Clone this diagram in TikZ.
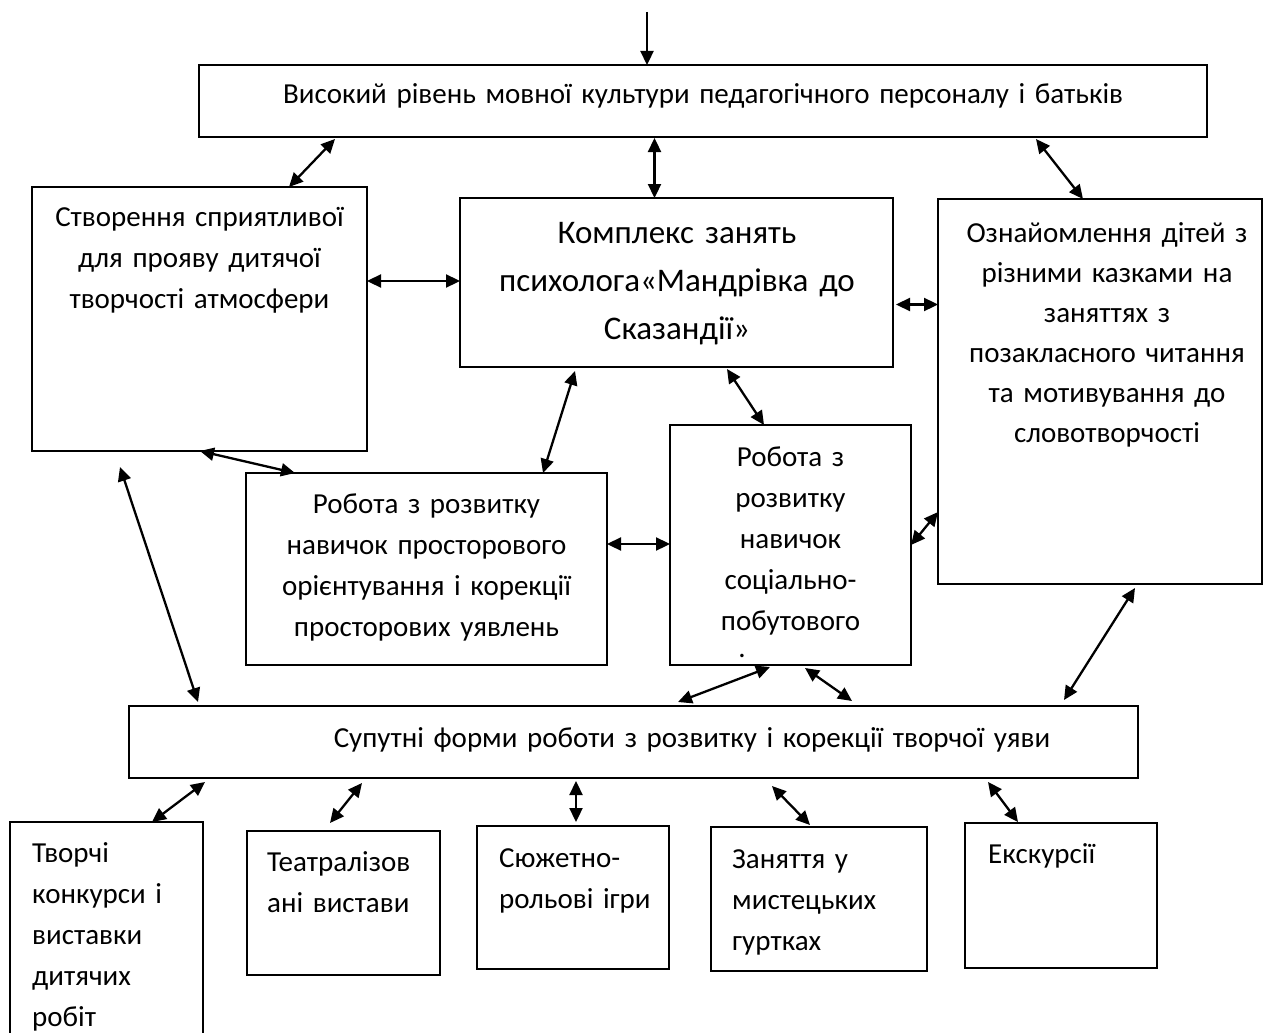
\documentclass[tikz,border=0pt]{standalone}
\usepackage{fontspec}
\setmainfont{Carlito}
\usetikzlibrary{arrows.meta}

\begin{document}
\begin{tikzpicture}
[   x=1pt,y=-1pt,
    box/.style 2 args={draw=black,line width=1.8pt,anchor=north west,inner sep=0pt,outer sep=0pt,minimum width=#1pt,minimum height=#2pt},
    ctext/.style={font=\fontsize{29}{41}\selectfont,align=center,text width=#1pt,anchor=base,inner sep=0pt},
    ltext/.style={font=\fontsize{29}{41}\selectfont,align=left,text width=180pt,anchor=base west,inner sep=0pt},
    dar/.style={{Triangle[length=14pt,width=13pt]}-{Triangle[length=14pt,width=13pt]},line width=2.3pt},
    sar/.style={-{Triangle[length=14pt,width=13pt]},line width=2.3pt},
]
    \useasboundingbox (0,0) rectangle (1264,1033);

    % boxes
    \node[box={1008}{72}] (lvl) at (199,65) {};
    \node[box={335}{264}] (atm) at (32,187) {};
    \node[box={433}{169}] (cmp) at (460,198) {};
    \node[box={324}{385}] (fair) at (938,199) {};
    \node[box={361}{192}] (orn) at (246,473) {};
    \node[box={241}{240}] (soc) at (670,425) {};
    \node[box={1009}{72}] (sup) at (129,706) {};
    \node[box={193}{223}] (b-1) at (10,822) {};
    \node[box={193}{144}] (b-2) at (247,831) {};
    \node[box={192}{143}] (b-3) at (477,826) {};
    \node[box={216}{144}] (b-4) at (711,827) {};
    \node[box={192}{145}] (b-5) at (965,823) {};

    % texts
    \node[ctext=1000] (lvl-t) at (703,103) {Високий рівень мовної культури педагогічного персоналу і батьків};
    \node[ctext=330] (atm-t) at (199.5,226) {Створення сприятливої\\для прояву дитячої\\творчості атмосфери};
    \node[ctext=420,font=\fontsize{33}{48}\selectfont] (cmp-t) at (677,243) {Комплекс занять\\психолога«Мандрівка до\\Сказандії»};
    \node[ctext=320,font=\fontsize{29}{40}\selectfont] (fair-t) at (1107,242) {Ознайомлення дітей з\\різними казками на\\заняттях з\\позакласного читання\\та мотивування до\\словотворчості};
    \node[ctext=350] (orn-t) at (426.5,513) {Робота з розвитку\\навичок просторового\\орієнтування і корекції\\просторових уявлень};
    \node[ctext=235] (soc-t) at (790.5,466) {Робота з\\розвитку\\навичок\\соціально-\\побутового};
    \node[font=\fontsize{29}{41}\selectfont,anchor=base,inner sep=0pt] (soc-d) at (742,657) {.};
    \node[ctext=1000] (sup-t) at (692,747) {Супутні форми роботи з розвитку і корекції творчої уяви};
    \node[ltext] (b-1-t) at (32,862) {Творчі\\конкурси і\\виставки\\дитячих\\робіт};
    \node[ltext] (b-2-t) at (267,871) {Театралізов\\ані вистави};
    \node[ltext] (b-3-t) at (499,867) {Сюжетно-\\рольові ігри};
    \node[ltext] (b-4-t) at (732,868) {Заняття у\\мистецьких\\гуртках};
    \node[ltext] (b-5-t) at (988,863) {Екскурсії};

    % connectors
    \coordinate (in) at (647,12);
    \draw[sar] (in) -- (in |- lvl.north);
    \draw[dar] ([xshift=136pt,yshift=-2pt]lvl.south west) -- ([xshift=257pt]atm.north west);
    \draw[dar] ([xshift=-22pt]cmp.north) -- ([xshift=-22pt,yshift=-1pt]cmp.north |- lvl.south);
    \draw[dar] ([xshift=-171pt,yshift=-2pt]lvl.south east) -- ([xshift=145pt]fair.north west);
    \draw[dar] ([yshift=38pt]atm.east) -- ([yshift=38pt]atm.east -| cmp.west);
    \draw[dar] ([xshift=3pt,yshift=-22pt]cmp.east) -- ([yshift=-22pt]cmp.east -| fair.west);
    \draw[dar] ([xshift=115pt,yshift=-4pt]cmp.south west) -- ([xshift=297pt]orn.north west);
    \draw[dar] ([xshift=267pt,yshift=-2pt]cmp.south west) -- ([xshift=94pt]soc.north west);
    \draw[dar] ([xshift=168pt]atm.south west) -- ([xshift=49pt]orn.north west);
    \draw[dar] ([xshift=88pt,yshift=-16pt]atm.south west) -- ([xshift=69pt,yshift=4pt]sup.north west);
    \draw[dar] ([yshift=25pt]orn.east) -- ([yshift=25pt]orn.east -| soc.west);
    \draw[dar] (soc.east) -- ([yshift=72pt]fair.south west);
    \draw[dar] ([xshift=100pt,yshift=-2pt]soc.south west) -- ([xshift=549pt,yshift=4pt]sup.north west);
    \draw[dar] ([xshift=135pt,yshift=-3pt]soc.south west) -- ([xshift=723pt,yshift=5pt]sup.north west);
    \draw[dar] ([xshift=197pt,yshift=-4pt]fair.south west) -- ([xshift=-74pt,yshift=6pt]sup.north east);

    \foreach \b/\sx/\sy/\ex/\ey in {b-1/76/4/142/0, b-2/233/5/83/8, b-3/447/3/99/4, b-4/643/8/99/2, b-5/859/4/53/1}
    {   \draw[dar] ([xshift=\sx pt,yshift=-\sy pt]sup.south west) -- ([xshift=\ex pt,yshift=\ey pt]\b.north west);
    }
\end{tikzpicture}
\end{document}
